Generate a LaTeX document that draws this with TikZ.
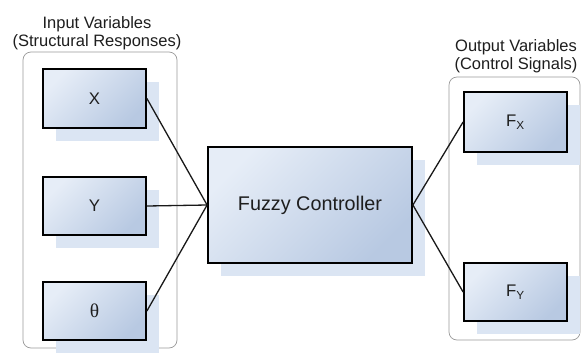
\documentclass[tikz,border=0pt]{standalone}
\usepackage{fontspec}
\setmainfont{Liberation Sans}
\newfontfamily\greekserif{Liberation Serif}
\usetikzlibrary{shadows}
\definecolor{boxtop}{HTML}{E6EDF7}
\definecolor{boxbot}{HTML}{B8C9E2}
\definecolor{shadowc}{HTML}{DBE5F3}
\definecolor{groupc}{HTML}{9A9A9A}
\definecolor{textc}{HTML}{1E1E1E}
\tikzset{
  varbox/.style={rectangle, inner sep=0pt, draw=black, line width=1.8pt,
    top color=boxtop, bottom color=boxbot, shading angle=45,
    general shadow={fill=shadowc, shadow xshift=13pt, shadow yshift=-13pt},
    text=textc, font=\fontsize{16.8}{18}\selectfont},
  groupbox/.style={draw=groupc, line width=0.7pt, rounded corners=8pt},
  grouplabel/.style={align=center, inner sep=0pt, text=textc,
    font=\fontsize{16.5}{18.5}\selectfont},
  link/.style={line width=1.3pt, draw=black!90}
}
\begin{document}
\begin{tikzpicture}[x=1pt, y=-1pt]
  \useasboundingbox (0,0) rectangle (581,354);
  \fill[white] (0,0) rectangle (581,354);

  % group frames
  \draw[groupbox] (23,52) rectangle (177,348);
  \draw[groupbox] (449,77) rectangle (580,340);

  % group captions
  \node[grouplabel, anchor=north] (inlab) at (97,16) {Input Variables\\(Structural Responses)};
  \node[grouplabel, anchor=north] (outlab) at (516,39) {Output Variables\\(Control Signals)};

  % input variables
  \node[varbox, minimum width=103pt, minimum height=59pt] (x) at (94.5,98.5) {X};
  \node[varbox, minimum width=103pt, minimum height=58pt] (y) at (94.5,206) {Y};
  \node[varbox, minimum width=103pt, minimum height=58pt] (th) at (94.5,311)
       {\greekserif\fontsize{19.5}{20}\selectfont θ};

  % controller
  \node[varbox, minimum width=204pt, minimum height=116pt,
        font=\fontsize{19.8}{22}\selectfont] (fc) at (310,205) {Fuzzy Controller};

  % output variables
  \node[varbox, minimum width=103pt, minimum height=60pt] (fx) at (515.5,122) {F\textsubscript{X}};
  \node[varbox, minimum width=103pt, minimum height=58pt] (fy) at (515.5,292) {F\textsubscript{Y}};

  % connectors
  \draw[link] (x.east) -- (fc.west);
  \draw[link] (y.east) -- (fc.west);
  \draw[link] (th.east) -- (fc.west);
  \draw[link] (fc.east) -- (fx.west);
  \draw[link] (fc.east) -- (fy.west);
\end{tikzpicture}
\end{document}
